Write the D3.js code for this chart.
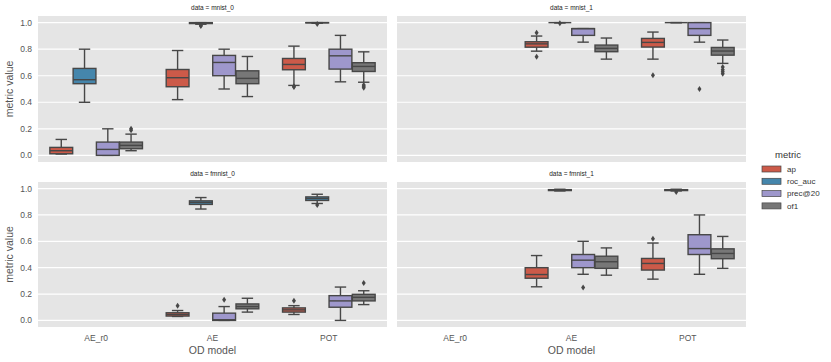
<!DOCTYPE html>
<html>
<head>
<meta charset="utf-8">
<script src="https://cdn.jsdelivr.net/npm/d3@7"></script>
<style>
  body { margin: 0; background: #fff; }
  text { font-family: "Liberation Sans", Arial, sans-serif; }
</style>
</head>
<body>
<svg id="chart" width="831" height="362"></svg>
<script>
// categories
const models = ["AE_r0", "AE", "POT"];
const metrics = ["ap", "roc_auc", "prec@20", "of1"];
const metricColors = ["#CC5A49", "#4586AC", "#9E97CC", "#777777"];
const yTicks = [0, 0.2, 0.4, 0.6, 0.8, 1.0];

// box stats: model, metric, whisker low, q1, median, q3, whisker high, outliers
const mnist0 = [
  ["AE_r0", "ap", 0.01, 0.012, 0.035, 0.06, 0.12, []],
  ["AE_r0", "roc_auc", 0.40, 0.54, 0.57, 0.655, 0.80, []],
  ["AE_r0", "prec@20", 0.0, 0.0, 0.045, 0.10, 0.20, []],
  ["AE_r0", "of1", 0.035, 0.05, 0.075, 0.10, 0.16, [0.19, 0.2]],
  ["AE", "ap", 0.42, 0.517, 0.585, 0.647, 0.79, []],
  ["AE", "roc_auc", 0.988, 0.993, 0.997, 1.0, 1.0, [0.975, 0.98]],
  ["AE", "prec@20", 0.50, 0.60, 0.70, 0.753, 0.80, []],
  ["AE", "of1", 0.443, 0.54, 0.58, 0.637, 0.745, []],
  ["POT", "ap", 0.527, 0.645, 0.685, 0.73, 0.823, [0.515, 0.52]],
  ["POT", "roc_auc", 0.995, 0.998, 1.0, 1.0, 1.0, [0.99]],
  ["POT", "prec@20", 0.554, 0.65, 0.75, 0.80, 0.904, []],
  ["POT", "of1", 0.551, 0.632, 0.67, 0.698, 0.78, [0.51, 0.52, 0.53]]
];
const mnist1 = [
  ["AE", "ap", 0.785, 0.815, 0.84, 0.856, 0.899, [0.924, 0.743]],
  ["AE", "roc_auc", 0.998, 1.0, 1.0, 1.0, 1.0, [0.995]],
  ["AE", "prec@20", 0.853, 0.904, 0.955, 0.955, 0.955, []],
  ["AE", "of1", 0.725, 0.781, 0.806, 0.831, 0.884, []],
  ["POT", "ap", 0.725, 0.816, 0.851, 0.881, 0.929, [0.604]],
  ["POT", "roc_auc", 1.0, 1.0, 1.0, 1.0, 1.0, []],
  ["POT", "prec@20", 0.853, 0.904, 0.955, 1.0, 1.0, [0.50]],
  ["POT", "of1", 0.693, 0.755, 0.786, 0.813, 0.869, [0.665, 0.645, 0.63, 0.615]]
];
const fmnist0 = [
  ["AE", "ap", 0.03, 0.033, 0.045, 0.058, 0.075, [0.112]],
  ["AE", "roc_auc", 0.845, 0.88, 0.895, 0.907, 0.932, []],
  ["AE", "prec@20", 0.0, 0.0, 0.005, 0.055, 0.105, [0.157]],
  ["AE", "of1", 0.063, 0.088, 0.105, 0.125, 0.168, []],
  ["POT", "ap", 0.045, 0.063, 0.08, 0.095, 0.112, [0.15]],
  ["POT", "roc_auc", 0.887, 0.91, 0.925, 0.937, 0.957, [0.875]],
  ["POT", "prec@20", 0.0, 0.10, 0.148, 0.188, 0.253, []],
  ["POT", "of1", 0.12, 0.148, 0.175, 0.198, 0.225, [0.283]]
];
const fmnist1 = [
  ["AE", "ap", 0.255, 0.32, 0.348, 0.40, 0.492, []],
  ["AE", "roc_auc", 0.982, 0.985, 0.988, 0.992, 0.995, []],
  ["AE", "prec@20", 0.35, 0.40, 0.457, 0.50, 0.60, [0.25]],
  ["AE", "of1", 0.343, 0.395, 0.445, 0.487, 0.55, []],
  ["POT", "ap", 0.313, 0.382, 0.432, 0.47, 0.587, [0.62]],
  ["POT", "roc_auc", 0.982, 0.985, 0.988, 0.992, 0.995, [0.975]],
  ["POT", "prec@20", 0.35, 0.50, 0.545, 0.65, 0.80, []],
  ["POT", "of1", 0.395, 0.468, 0.508, 0.543, 0.637, []]
];

const panels = [
  { title: "data = mnist_0", rows: mnist0, col: 0, row: 0 },
  { title: "data = mnist_1", rows: mnist1, col: 1, row: 0 },
  { title: "data = fmnist_0", rows: fmnist0, col: 0, row: 1 },
  { title: "data = fmnist_1", rows: fmnist1, col: 1, row: 1 }
];

const colX = [[38, 387], [397, 746]];
const rowY = [[16, 162], [182, 327]];
const lineColor = "#474747";

const color = d3.scaleOrdinal().domain(metrics).range(metricColors);
const svg = d3.select("#chart");

panels.forEach(p => {
  const [x0, x1] = colX[p.col];
  const [y0, y1] = rowY[p.row];
  const x = d3.scaleBand().domain(models).range([x0, x1]);
  const hue = d3.scaleBand().domain(metrics).range([-0.4 * x.bandwidth(), 0.4 * x.bandwidth()]);
  const y = d3.scaleLinear().domain([-0.05, 1.05]).range([y1, y0]);
  const bw = hue.bandwidth() * 0.98;

  const g = svg.append("g");
  g.append("rect")
    .attr("x", x0).attr("y", y0)
    .attr("width", x1 - x0).attr("height", y1 - y0)
    .attr("fill", "#E5E5E5");

  g.selectAll("line.grid")
    .data(yTicks)
    .enter().append("line")
    .attr("x1", x0).attr("x2", x1)
    .attr("y1", d => y(d)).attr("y2", d => y(d))
    .attr("stroke", "#fff").attr("stroke-width", 1.2);

  // y tick labels on left column only
  if (p.col === 0) {
    g.selectAll("text.ytick")
      .data(yTicks)
      .enter().append("text")
      .attr("x", x0 - 6).attr("y", d => y(d))
      .attr("dy", "0.35em")
      .attr("text-anchor", "end")
      .attr("font-size", 8.5)
      .attr("fill", "#555")
      .text(d => d.toFixed(1));
    g.append("text")
      .attr("transform", `translate(13,${(y0 + y1) / 2}) rotate(-90)`)
      .attr("text-anchor", "middle")
      .attr("font-size", 10.5)
      .attr("fill", "#555")
      .text("metric value");
  }

  // x tick labels on bottom row only
  if (p.row === 1) {
    g.selectAll("text.xtick")
      .data(models)
      .enter().append("text")
      .attr("x", d => x(d) + x.bandwidth() / 2)
      .attr("y", y1 + 14)
      .attr("text-anchor", "middle")
      .attr("font-size", 8.5)
      .attr("fill", "#555")
      .text(d => d);
    g.append("text")
      .attr("x", (x0 + x1) / 2).attr("y", y1 + 27)
      .attr("text-anchor", "middle")
      .attr("font-size", 10.5)
      .attr("fill", "#555")
      .text("OD model");
  }

  g.append("text")
    .attr("x", (x0 + x1) / 2).attr("y", y0 - 6)
    .attr("text-anchor", "middle")
    .attr("font-size", 6.5)
    .attr("fill", "#222")
    .text(p.title);

  const box = g.selectAll("g.box")
    .data(p.rows)
    .enter().append("g")
    .attr("transform", d => `translate(${x(d[0]) + x.bandwidth() / 2 + hue(d[1]) + hue.bandwidth() / 2},0)`);

  // whiskers
  box.append("line")
    .attr("x1", 0).attr("x2", 0)
    .attr("y1", d => y(d[6])).attr("y2", d => y(d[5]))
    .attr("stroke", lineColor).attr("stroke-width", 1.4);
  box.append("line")
    .attr("x1", 0).attr("x2", 0)
    .attr("y1", d => y(d[3])).attr("y2", d => y(d[2]))
    .attr("stroke", lineColor).attr("stroke-width", 1.4);
  // caps
  [2, 6].forEach(i => {
    box.append("line")
      .attr("x1", -bw / 4).attr("x2", bw / 4)
      .attr("y1", d => y(d[i])).attr("y2", d => y(d[i]))
      .attr("stroke", lineColor).attr("stroke-width", 1.4);
  });
  // box body
  box.append("rect")
    .attr("x", -bw / 2).attr("width", bw)
    .attr("y", d => y(d[5]))
    .attr("height", d => y(d[3]) - y(d[5]))
    .attr("fill", d => color(d[1]))
    .attr("stroke", lineColor).attr("stroke-width", 1.4);
  // median
  box.append("line")
    .attr("x1", -bw / 2).attr("x2", bw / 2)
    .attr("y1", d => y(d[4])).attr("y2", d => y(d[4]))
    .attr("stroke", lineColor).attr("stroke-width", 1.4);
  // outliers
  box.each(function (d) {
    d3.select(this).selectAll("path")
      .data(d[7])
      .enter().append("path")
      .attr("d", v => `M0,${y(v) - 3}L2,${y(v)}L0,${y(v) + 3}L-2,${y(v)}Z`)
      .attr("fill", lineColor);
  });
});

// legend
const legend = svg.append("g");
legend.append("text")
  .attr("x", 788).attr("y", 158)
  .attr("text-anchor", "middle")
  .attr("font-size", 9.5)
  .attr("fill", "#333")
  .text("metric");
const item = legend.selectAll("g.item")
  .data(metrics)
  .enter().append("g")
  .attr("transform", (d, i) => `translate(762,${169 + i * 12.3})`);
item.append("rect")
  .attr("x", 0).attr("y", -3)
  .attr("width", 19).attr("height", 6)
  .attr("fill", d => color(d))
  .attr("stroke", lineColor).attr("stroke-width", 0.7);
item.append("text")
  .attr("x", 25).attr("dy", "0.35em")
  .attr("font-size", 8)
  .attr("fill", "#333")
  .text(d => d);
</script>
</body>
</html>
